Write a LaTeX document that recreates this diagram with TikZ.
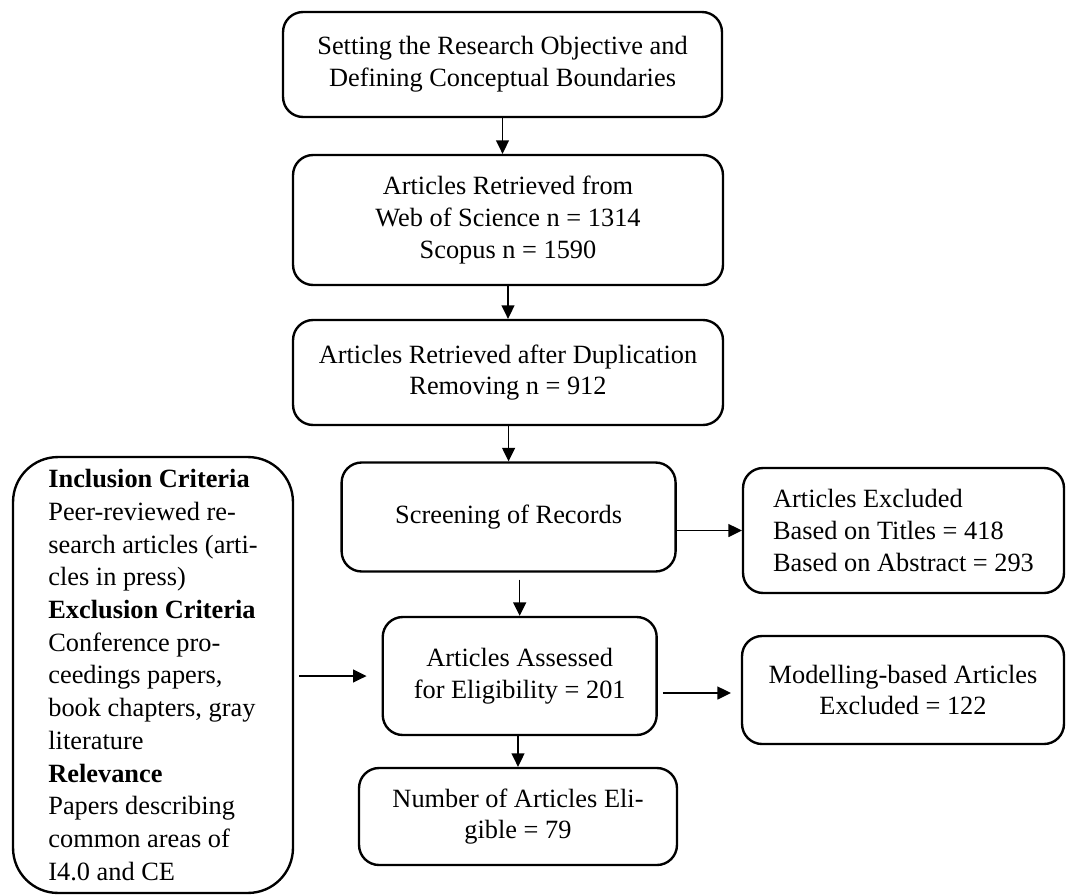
\documentclass[tikz,border=0pt]{standalone}
\usepackage{fontspec}
\setmainfont{Liberation Serif}
\usetikzlibrary{arrows.meta,positioning}
\tikzset{
    %Define standard arrow tip
    >={Triangle[length=0.27cm,width=0.26cm]},
    %Define style for boxes
    stage/.style={
           rectangle,
           rounded corners=0.4cm,
           draw=black, line width=1.35pt,
           align=center,
           font=\fontsize{15}{18}\selectfont},
    critbox/.style={
           stage,
           rounded corners=0.9cm,
           align=left,
           font=\fontsize{15}{18.6}\selectfont},
    % Define arrow style
    flow/.style={
           ->,
           line width=0.8pt}
}

\begin{document}
\begin{tikzpicture}[x=0.02cm,y=-0.02cm]
\useasboundingbox (0,0) rectangle (1067,895);
\node[stage, minimum width=8.78cm, minimum height=2.1cm] (setobj) at (502.5,64.5)
    {Setting the Research Objective and\\Defining Conceptual Boundaries};
\node[stage, minimum width=8.6cm, minimum height=2.6cm] (retrieved) at (508,220)
    {Articles Retrieved from\\Web of Science n = 1314\\Scopus n = 1590};
\node[stage, minimum width=8.6cm, minimum height=2.1cm] (dedup) at (508,372.5)
    {Articles Retrieved after Duplication\\Removing n = 912};
\node[stage, minimum width=6.68cm, minimum height=2.18cm] (screen) at (508.6,517)
    {Screening of Records};
\node[stage, align=left, minimum width=6.42cm, minimum height=2.5cm] (excl) at (903.5,530.5)
    {Articles Excluded\\Based on Titles = 418\\Based on Abstract = 293};
\node[stage, minimum width=5.48cm, minimum height=2.36cm] (assess) at (519.7,676)
    {Articles Assessed\\for Eligibility = 201};
\node[stage, minimum width=6.44cm, minimum height=2.16cm] (model) at (903,690)
    {Modelling-based Articles\\Excluded = 122};
\node[stage, minimum width=6.36cm, minimum height=1.94cm] (eligible) at (518,816.5)
    {Number of Articles Eli-\\gible = 79};
\node[critbox, minimum width=5.6cm, minimum height=8.72cm] (criteria) at (153,675)
    {\textbf{Inclusion Criteria}\\
     Peer-reviewed re-\\
     search articles (arti-\\
     cles in press)\\
     \textbf{Exclusion Criteria}\\
     Conference pro-\\
     ceedings papers,\\
     book chapters, gray\\
     literature\\
     \textbf{Relevance}\\
     Papers describing\\
     common areas of\\
     I4.0 and CE};

\draw[flow] (setobj.south) -- (setobj.south |- retrieved.north);
\draw[flow] (retrieved.south) -- (dedup.north);
\draw[flow] (screen.north |- dedup.south) -- (screen.north);
\draw[flow] (screen.east |- excl.west) -- (excl.west);
\draw[flow, shorten <=0.14cm] (assess.north |- screen.south) -- (assess.north);
\draw[flow, shorten <=0.1cm, shorten >=0.3cm] (criteria.east |- assess.west) -- (assess.west);
\draw[flow, shorten <=0.1cm, shorten >=0.2cm] ([yshift=-0.34cm]assess.east) -- ([yshift=-0.34cm]assess.east -| model.west);
\draw[flow] (eligible.north |- assess.south) -- (eligible.north);
\end{tikzpicture}
\end{document}
